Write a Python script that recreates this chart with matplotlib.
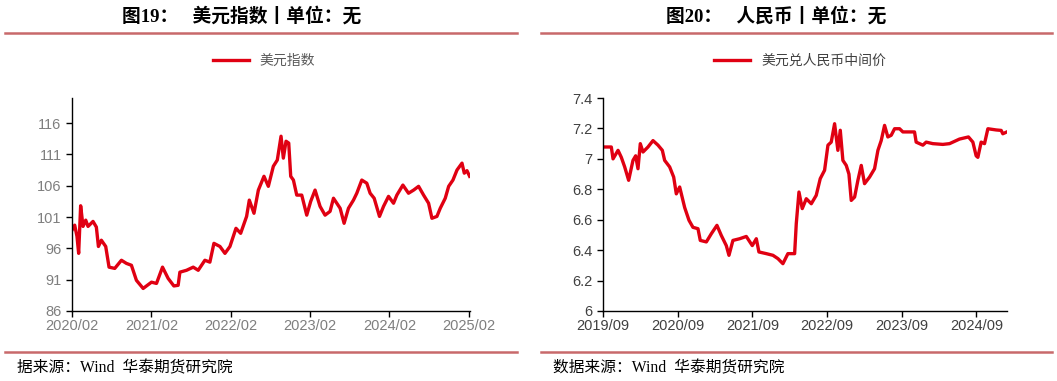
import matplotlib
matplotlib.use("Agg")
import matplotlib.pyplot as plt
from matplotlib.lines import Line2D

plt.rcParams['font.family'] = ['Liberation Sans', 'Noto Sans CJK SC', 'DejaVu Sans']

# ---------------- data: 美元指数 (decimal year, value) ----------------
dxy_t = [2020.083, 2020.117, 2020.146, 2020.167, 2020.192, 2020.222, 2020.256, 2020.285,
         2020.348, 2020.390, 2020.416, 2020.453, 2020.508, 2020.550, 2020.622, 2020.706,
         2020.769, 2020.832, 2020.895, 2020.980, 2021.085, 2021.148, 2021.224, 2021.295,
         2021.367, 2021.421, 2021.443, 2021.527, 2021.611, 2021.674, 2021.758, 2021.821,
         2021.872, 2021.948, 2022.011, 2022.074, 2022.150, 2022.209, 2022.284, 2022.318,
         2022.377, 2022.432, 2022.503, 2022.558, 2022.621, 2022.671, 2022.718, 2022.747,
         2022.781, 2022.815, 2022.840, 2022.874, 2022.916, 2022.979, 2023.042, 2023.092,
         2023.147, 2023.210, 2023.273, 2023.336, 2023.379, 2023.463, 2023.513, 2023.568,
         2023.631, 2023.673, 2023.736, 2023.799, 2023.841, 2023.892, 2023.959, 2024.010,
         2024.073, 2024.136, 2024.178, 2024.254, 2024.325, 2024.389, 2024.452, 2024.515,
         2024.578, 2024.620, 2024.683, 2024.725, 2024.788, 2024.831, 2024.885, 2024.936,
         2024.999, 2025.028, 2025.062, 2025.095]
dxy_v = [98.9, 99.7, 97.9, 95.2, 102.8, 99.5, 100.5, 99.5,
         100.3, 99.4, 96.3, 97.3, 96.3, 93.0, 92.8, 94.1,
         93.6, 93.3, 90.9, 89.6, 90.6, 90.4, 93.0, 91.2,
         90.0, 90.1, 92.2, 92.5, 93.0, 92.5, 94.1, 93.8,
         96.8, 96.3, 95.2, 96.3, 99.2, 98.4, 101.1, 103.7,
         101.6, 105.3, 107.5, 105.9, 109.1, 110.1, 113.9, 110.4,
         113.1, 112.8, 107.5, 106.9, 104.5, 104.5, 101.3, 103.5,
         105.3, 102.7, 101.3, 101.9, 104.0, 102.4, 100.0, 102.4,
         103.7, 104.8, 106.9, 106.4, 104.8, 104.0, 101.1, 102.7,
         104.3, 103.2, 104.5, 106.1, 104.8, 105.3, 105.9, 104.5,
         103.2, 100.8, 101.1, 102.4, 104.0, 105.9, 106.9, 108.5,
         109.6, 108.0, 108.4, 107.5]
dxy_ticks = ['2020/02', '2021/02', '2022/02', '2023/02', '2024/02', '2025/02']
dxy_yticks = [86, 91, 96, 101, 106, 111, 116]

# ---------------- data: 美元兑人民币中间价 ----------------
cny_t = [2019.667, 2019.778, 2019.801, 2019.868, 2019.912, 2019.957, 2020.010, 2020.068,
         2020.104, 2020.135, 2020.166, 2020.202, 2020.269, 2020.336, 2020.403, 2020.461,
         2020.492, 2020.559, 2020.613, 2020.648, 2020.693, 2020.760, 2020.818, 2020.871,
         2020.938, 2020.969, 2021.050, 2021.117, 2021.192, 2021.250, 2021.317, 2021.353,
         2021.406, 2021.496, 2021.585, 2021.665, 2021.719, 2021.754, 2021.853, 2021.942,
         2022.009, 2022.075, 2022.142, 2022.232, 2022.254, 2022.290, 2022.334, 2022.388,
         2022.455, 2022.521, 2022.575, 2022.633, 2022.678, 2022.722, 2022.767, 2022.811,
         2022.843, 2022.878, 2022.923, 2022.959, 2022.990, 2023.035, 2023.079, 2023.124,
         2023.168, 2023.235, 2023.302, 2023.347, 2023.391, 2023.436, 2023.480, 2023.525,
         2023.570, 2023.637, 2023.681, 2023.837, 2023.859, 2023.949, 2023.993, 2024.082,
         2024.216, 2024.306, 2024.439, 2024.559, 2024.618, 2024.662, 2024.685, 2024.729,
         2024.774, 2024.819, 2024.930, 2024.997, 2025.019, 2025.073]
cny_v = [7.078, 7.078, 7.000, 7.056, 7.010, 6.947, 6.859, 6.990,
         7.020, 6.935, 7.100, 7.045, 7.078, 7.120, 7.090, 7.056,
         6.990, 6.947, 6.880, 6.770, 6.815, 6.680, 6.596, 6.550,
         6.541, 6.464, 6.454, 6.508, 6.563, 6.497, 6.430, 6.366,
         6.464, 6.475, 6.490, 6.430, 6.475, 6.388, 6.377, 6.366,
         6.344, 6.311, 6.377, 6.377, 6.574, 6.782, 6.673, 6.738,
         6.705, 6.760, 6.870, 6.925, 7.090, 7.110, 7.231, 7.056,
         7.188, 6.990, 6.957, 6.900, 6.727, 6.749, 6.859, 6.957,
         6.837, 6.880, 6.935, 7.056, 7.120, 7.220, 7.144, 7.155,
         7.198, 7.198, 7.177, 7.177, 7.110, 7.090, 7.110, 7.100,
         7.095, 7.100, 7.130, 7.144, 7.110, 7.020, 7.010, 7.110,
         7.100, 7.198, 7.190, 7.187, 7.165, 7.177]
cny_ticks = ['2019/09', '2020/09', '2021/09', '2022/09', '2023/09', '2024/09']
cny_yticks = [6.0, 6.2, 6.4, 6.6, 6.8, 7.0, 7.2, 7.4]


def tick_pos(labels):
    return [int(s[:4]) + (int(s[5:]) - 1) / 12 for s in labels]


W, H = 1057, 381
fig = plt.figure(figsize=(W / 100, H / 100), dpi=100)
RED = '#e00012'
BAND = '#c8696b'


def fx(px):
    return px / W


def fy(py):
    return 1 - py / H


def style_axes(ax, lab_color):
    for s in ['top', 'right']:
        ax.spines[s].set_visible(False)
    for s in ['left', 'bottom']:
        ax.spines[s].set_color('#000000')
        ax.spines[s].set_linewidth(1.0)
    ax.tick_params(axis='both', labelsize=10.5, colors='#000000', labelcolor=lab_color,
                   length=4, width=1.0, direction='out')
    ax.tick_params(axis='x', pad=2)


# left panel
ax1 = fig.add_axes([fx(72), fy(311), fx(470 - 72), (311 - 98) / H])
ax1.plot(dxy_t, dxy_v, color=RED, lw=2.4, label='美元指数', solid_joinstyle='round')
ax1.set_xlim(2020.083, 2025.10)
ax1.set_ylim(86, 120)
ax1.set_yticks(dxy_yticks)
ax1.set_yticklabels([str(v) for v in dxy_yticks])
ax1.set_xticks(tick_pos(dxy_ticks))
ax1.set_xticklabels(dxy_ticks)
style_axes(ax1, '#7f7f7f')
ax1.legend(loc='center', bbox_to_anchor=(fx(264), fy(61)), bbox_transform=fig.transFigure,
           frameon=False, labelcolor='#595959', handlelength=2.6,
           prop={'family': ['Noto Sans CJK SC'], 'size': 10})

# right panel
ax2 = fig.add_axes([fx(603), fy(311), fx(1007 - 603), (311 - 98) / H])
ax2.plot(cny_t, cny_v, color=RED, lw=2.4, label='美元兑人民币中间价', solid_joinstyle='round')
ax2.set_xlim(2019.667, 2025.075)
ax2.set_ylim(6.0, 7.4)
ax2.set_yticks(cny_yticks)
ax2.set_yticklabels([('%g' % v) for v in cny_yticks])
ax2.set_xticks(tick_pos(cny_ticks))
ax2.set_xticklabels(cny_ticks)
style_axes(ax2, '#404040')
ax2.legend(loc='center', bbox_to_anchor=(fx(800), fy(61)), bbox_transform=fig.transFigure,
           frameon=False, labelcolor='#404040', handlelength=2.6,
           prop={'family': ['Noto Sans CJK SC'], 'size': 10})

# titles
tfam = ['Liberation Serif', 'Noto Sans CJK SC']
fig.text(fx(242), fy(16), '图19：   美元指数丨单位：无', ha='center', va='center',
         fontsize=13.5, fontweight='bold', family=tfam, color='#000000')
fig.text(fx(776), fy(16), '图20：   人民币丨单位：无', ha='center', va='center',
         fontsize=13.5, fontweight='bold', family=tfam, color='#000000')

# decorative rules
for (x0, x1) in [(5, 517), (541, 1052)]:
    fig.add_artist(Line2D([fx(x0), fx(x1)], [fy(33), fy(33)], color=BAND, lw=1.8))
    fig.add_artist(Line2D([fx(x0), fx(x1)], [fy(352), fy(352)], color=BAND, lw=1.8))

# sources
sfam = ['Liberation Serif', 'Noto Sans CJK SC']
fig.text(fx(17), fy(368), '据来源：Wind  华泰期货研究院', ha='left', va='center',
         fontsize=11.3, family=sfam, color='#000000')
fig.text(fx(553), fy(368), '数据来源：Wind  华泰期货研究院', ha='left', va='center',
         fontsize=11.3, family=sfam, color='#000000')

fig.savefig('out.png', dpi=100)
